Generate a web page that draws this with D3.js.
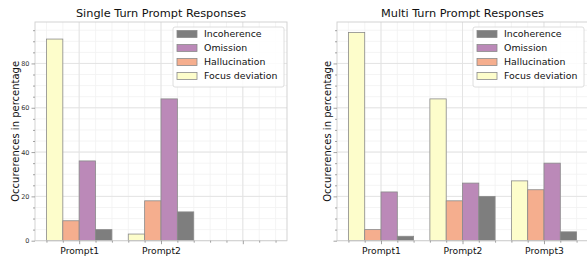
<!DOCTYPE html>
<html lang="en">
<head>
  <meta charset="UTF-8">
  <title>Prompt Responses</title>
  <style>
    body { margin: 0; background: #fff; }
    svg { display: block; font-family: "DejaVu Sans", sans-serif; }
    svg text { font-family: "DejaVu Sans", sans-serif; }
    .domain { display: none; }
  </style>
</head>
<body>
  <svg width="587" height="256"></svg>
  <script src="https://d3js.org/d3.v7.min.js"></script>
  <script>
    // categories and series
    var categories = ['Prompt1', 'Prompt2', 'Prompt3'];
    var seriesNames = ['Focus deviation', 'Hallucination', 'Omission', 'Incoherence'];

    // single turn values (per series, per prompt)
    var singleFocus = [91, 3];
    var singleHallucination = [9, 18];
    var singleOmission = [36, 64];
    var singleIncoherence = [5, 13];

    // multi turn values
    var multiFocus = [94, 64, 27];
    var multiHallucination = [5, 18, 23];
    var multiOmission = [22, 26, 35];
    var multiIncoherence = [2, 20, 4];

    var yTicks = [0, 20, 40, 60, 80];

    var colors = {
      'Focus deviation': '#fdfdcb',
      'Hallucination': '#f5ae8e',
      'Omission': '#bb89b8',
      'Incoherence': '#7e7e7e'
    };

    var svg = d3.select('svg');
    var plotTop = 22, plotBottom = 240.7;
    var barW = 0.2;

    var yScale = d3.scaleLinear().domain([0, 98.7]).range([plotBottom, plotTop]);

    function panel(title, left, right, values, showYLabels) {
      var x = d3.scaleLinear().domain([-0.54, 2.54]).range([left, right]);
      var g = svg.append('g');
      var nCats = values[0].length;

      // minor grid
      d3.range(0, 100, 5).forEach(function (v) {
        g.append('line').attr('x1', left).attr('x2', right)
          .attr('y1', yScale(v)).attr('y2', yScale(v))
          .attr('stroke', '#f1f1f1').attr('stroke-width', 0.8);
      });
      d3.range(-0.4, 2.41, 0.2).forEach(function (v) {
        g.append('line').attr('y1', plotTop).attr('y2', plotBottom)
          .attr('x1', x(v)).attr('x2', x(v))
          .attr('stroke', '#f1f1f1').attr('stroke-width', 0.8);
      });
      // major grid
      yTicks.forEach(function (v) {
        g.append('line').attr('x1', left).attr('x2', right)
          .attr('y1', yScale(v)).attr('y2', yScale(v))
          .attr('stroke', '#e2e2e2').attr('stroke-width', 0.9);
      });
      [0, 1, 2].forEach(function (v) {
        g.append('line').attr('y1', plotTop).attr('y2', plotBottom)
          .attr('x1', x(v)).attr('x2', x(v))
          .attr('stroke', '#e2e2e2').attr('stroke-width', 0.9);
      });

      // bars
      values.forEach(function (arr, si) {
        g.selectAll(null).data(arr).enter().append('rect')
          .attr('x', function (d, i) { return x(i - 0.4 + si * barW); })
          .attr('width', x(barW) - x(0))
          .attr('y', function (d) { return yScale(d); })
          .attr('height', function (d) { return plotBottom - yScale(d); })
          .attr('fill', colors[seriesNames[si]])
          .attr('stroke', '#8a8a8a')
          .attr('stroke-width', 0.8);
      });

      // frame
      g.append('rect').attr('x', left).attr('y', plotTop)
        .attr('width', right - left).attr('height', plotBottom - plotTop)
        .attr('fill', 'none').attr('stroke', '#cfcfcf').attr('stroke-width', 0.9);

      // y axis
      var yAxis = d3.axisLeft(yScale).tickValues(yTicks).tickSize(3.5).tickPadding(2)
        .tickFormat(showYLabels ? d3.format('d') : '');
      var ya = g.append('g').attr('transform', 'translate(' + left + ',0)').call(yAxis);
      var yMinor = d3.axisLeft(yScale).tickValues(d3.range(5, 100, 5).filter(function (v) { return v % 20; }))
        .tickSize(2).tickFormat('');
      var ym = g.append('g').attr('transform', 'translate(' + left + ',0)').call(yMinor);

      // x axis (only label categories that have data)
      var xAxis = d3.axisBottom(x).tickValues([0, 1, 2]).tickSize(3.5).tickPadding(3)
        .tickFormat(function (d) { return d < nCats ? categories[d] : ''; });
      var xa = g.append('g').attr('transform', 'translate(0,' + plotBottom + ')').call(xAxis);
      var xMinor = d3.axisBottom(x).tickValues(d3.range(-0.4, 2.41, 0.2).filter(function (v) {
        return Math.abs(v - Math.round(v)) > 0.01;
      })).tickSize(2).tickFormat('');
      var xm = g.append('g').attr('transform', 'translate(0,' + plotBottom + ')').call(xMinor);

      [ya, ym, xa, xm].forEach(function (a) {
        a.attr('font-family', null).attr('font-size', null);
        a.selectAll('line').attr('stroke', '#8c8c8c').attr('stroke-width', 0.8);
      });
      ya.selectAll('text').attr('font-size', 6.5).attr('fill', '#333');
      xa.selectAll('text').attr('font-size', 9.2).attr('fill', '#111');

      // title
      g.append('text').attr('x', (left + right) / 2).attr('y', 17)
        .attr('text-anchor', 'middle').attr('font-size', 11.3).attr('fill', '#111')
        .text(title);

      // y label
      var yLabelX = showYLabels ? left - 16 : left - 6;
      g.append('text')
        .attr('transform', 'translate(' + yLabelX + ',' + ((plotTop + plotBottom) / 2) + ') rotate(-90)')
        .attr('text-anchor', 'middle').attr('font-size', 10).attr('fill', '#111')
        .text('Occurerences in percentage');

      // legend
      var lw = 111, lh = 60;
      var lx = Math.min(right, 587) - 3 - lw, ly = 27;
      var leg = g.append('g').attr('transform', 'translate(' + lx + ',' + ly + ')');
      leg.append('rect').attr('width', lw).attr('height', lh).attr('rx', 2)
        .attr('fill', 'rgba(255,255,255,0.85)').attr('stroke', '#d6d6d6').attr('stroke-width', 0.8);
      seriesNames.slice().reverse().forEach(function (name, i) {
        var cy = 7 + i * 14;
        leg.append('rect').attr('x', 4).attr('y', cy - 3.5).attr('width', 20).attr('height', 7)
          .attr('fill', colors[name]).attr('stroke', '#8a8a8a').attr('stroke-width', 0.8);
        leg.append('text').attr('x', 31).attr('y', cy + 3.4)
          .attr('font-size', 9.4).attr('fill', '#111').text(name);
      });
    }

    panel('Single Turn Prompt Responses', 35, 287,
      [singleFocus, singleHallucination, singleOmission, singleIncoherence], true);
    panel('Multi Turn Prompt Responses', 337, 588,
      [multiFocus, multiHallucination, multiOmission, multiIncoherence], false);
  </script>
</body>
</html>
